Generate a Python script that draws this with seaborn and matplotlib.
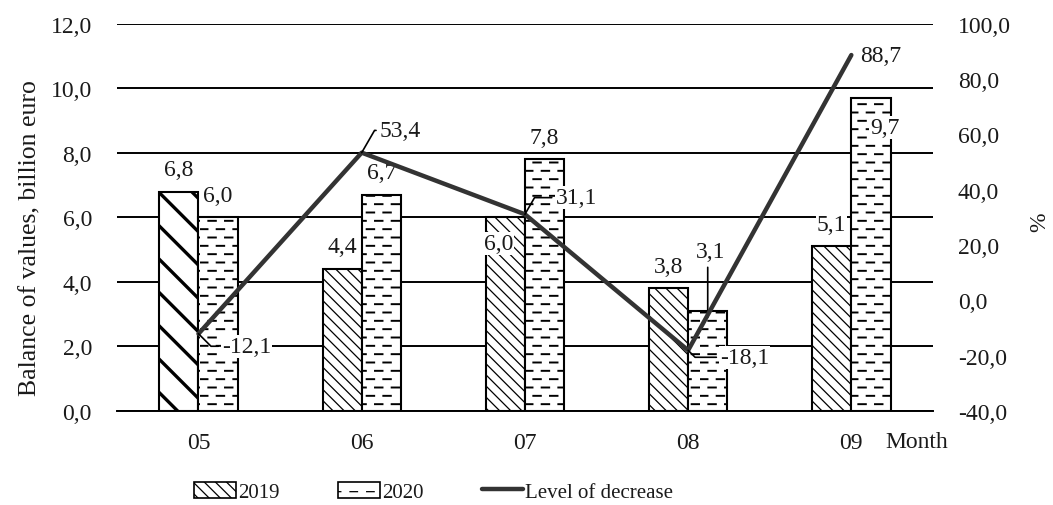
import numpy as np
import pandas as pd
import matplotlib
matplotlib.use("Agg")
import matplotlib.pyplot as plt
import matplotlib.hatch as mhatch
from matplotlib.path import Path
from matplotlib.patches import Patch
from matplotlib.lines import Line2D
import seaborn as sns

# ---------------- data ----------------
months = ["05", "06", "07", "08", "09"]
values_2019 = [6.8, 4.4, 6.0, 3.8, 5.1]
values_2020 = [6.0, 6.7, 7.8, 3.1, 9.7]
decrease = [-12.1, 53.4, 31.1, -18.1, 88.7]
series_names = ["2019", "2020"]
line_name = "Level of decrease"
left_ticks = [0, 2, 4, 6, 8, 10, 12]
right_ticks = [-40, -20, 0, 20, 40, 60, 80, 100]


# -------- dashed horizontal hatch (replaces solid '-') --------
class DashedHorizontalHatch(mhatch.HatchPatternBase):
    def __init__(self, hatch, density):
        self.num_rows = int(hatch.count('-') * density)
        self.num_dash = 6
        self.num_vertices = self.num_rows * self.num_dash * 2

    def set_vertices_and_codes(self, vertices, codes):
        ys = (np.arange(self.num_rows) + 0.5) / self.num_rows
        k = 0
        period = 1.0 / self.num_dash
        for i, y in enumerate(ys):
            off = 0.5 * period if i % 2 else 0.0
            for j in range(self.num_dash):
                x0 = j * period + off
                vertices[k] = (x0, y)
                vertices[k + 1] = (x0 + 0.45 * period, y)
                codes[k] = Path.MOVETO
                codes[k + 1] = Path.LINETO
                k += 2


mhatch._hatch_types = [DashedHorizontalHatch if t is mhatch.HorizontalHatch else t
                       for t in mhatch._hatch_types]

# ---------------- style ----------------
sns.set_theme(style="white")
plt.rcParams["font.family"] = ["Liberation Serif", "DejaVu Serif"]
plt.rcParams["hatch.linewidth"] = 0.9
TXT = "#1a1a1a"
LINE_C = "#333333"
FS = 17
BOX = dict(facecolor="white", edgecolor="none", pad=0.6)

df = pd.DataFrame({
    "month": months * 2,
    "value": values_2019 + values_2020,
    "year": [series_names[0]] * len(months) + [series_names[1]] * len(months),
})

fig = plt.figure(figsize=(10.53, 5.06), dpi=100)
ax = fig.add_axes([0.111, 0.186, 0.775, 0.765])

sns.barplot(data=df, x="month", y="value", hue="year", order=months,
            hue_order=series_names, width=0.48, gap=0, ax=ax,
            palette=["white", "white"], edgecolor="black", linewidth=1.5,
            legend=False, saturation=1)

hatch_2019 = "\\\\\\"
hatch_2020 = "--"
for i, bar in enumerate(ax.containers[0]):
    bar.set_facecolor("white")
    bar.set_edgecolor("black")
    if i == 0:
        bar.set_hatch("\\")
        if hasattr(bar, "set_hatch_linewidth"):
            bar.set_hatch_linewidth(2.4)
    else:
        bar.set_hatch(hatch_2019)
for bar in ax.containers[1]:
    bar.set_facecolor("white")
    bar.set_edgecolor("black")
    bar.set_hatch(hatch_2020)
    if hasattr(bar, "set_hatch_linewidth"):
        bar.set_hatch_linewidth(1.4)

ax.set_ylim(0, 12)
ax.set_yticks(left_ticks)
ax.set_yticklabels([f"{t:.1f}".replace(".", ",") for t in left_ticks])
ax.yaxis.grid(True, color="black", linewidth=1.4)
ax.set_axisbelow(True)
for s in ["top", "right", "left"]:
    ax.spines[s].set_visible(False)
ax.spines["bottom"].set_color("black")
ax.spines["bottom"].set_linewidth(1.4)
ax.tick_params(axis="both", length=0, labelsize=FS, colors=TXT)
ax.tick_params(axis="y", pad=18)
ax.tick_params(axis="x", pad=15)
ax.set_xlabel("Month", fontsize=FS, color=TXT)
ax.xaxis.set_label_coords(0.98, -0.052)
ax.set_ylabel("Balance of values, billion euro", fontsize=18.5, color=TXT)
ax.yaxis.set_label_coords(-0.093, 0.45)

# ---------------- line on secondary axis ----------------
ax2 = ax.twinx()
sns.pointplot(x=months, y=decrease, order=months, ax=ax2, color=LINE_C,
              markers="", linewidth=3.2, errorbar=None)
ax2.set_ylim(-40, 100)
ax2.set_yticks(right_ticks)
ax2.set_yticklabels([f"{t:.1f}".replace(".", ",") for t in right_ticks])
ax2.tick_params(axis="y", length=0, labelsize=FS, colors=TXT, pad=18)
for s in ax2.spines.values():
    s.set_visible(False)
ax2.set_ylabel("")
ax2.set_xlabel("")
ax2.grid(False)
fig.text(1040 / 1053, 1 - 222 / 506, "%", rotation=90, ha="center",
         va="center", fontsize=FS, color=TXT)

# ---------------- bar labels ----------------
def fmt(v):
    return f"{v:.1f}".replace(".", ",")

# offsets (points) for each bar label
off_2019 = [(0, 16), (0, 16), (-5, -19), (0, 16), (0, 16)]
off_2020 = [(0, 16), (0, 16), (0, 16), (2, 43), (10, -21)]
for bars, vals, offs in [(ax.containers[0], values_2019, off_2019),
                         (ax.containers[1], values_2020, off_2020)]:
    for bar, v, (dx, dy) in zip(bars, vals, offs):
        cx = bar.get_x() + bar.get_width() / 2
        ax.annotate(fmt(v), xy=(cx, v), xytext=(dx, dy), textcoords="offset points",
                    ha="center", va="center", fontsize=FS, color=TXT, bbox=BOX,
                    zorder=5)

# leader for 08/2020 label
b = ax.containers[1][3]
ax.annotate("", xy=(b.get_x() + b.get_width() / 2, values_2020[3] - 0.2),
            xytext=(b.get_x() + b.get_width() / 2, values_2020[3] + 1.35),
            arrowprops=dict(arrowstyle="-", color="black", lw=1.2, shrinkA=0, shrinkB=0),
            zorder=4)

# ---------------- line labels ----------------
line_offs = [(17, -9), (13, 16), (22, 12), (23, -5), (6, 0)]
line_lead = [True, True, True, True, False]
for i, (v, (dx, dy), lead) in enumerate(zip(decrease, line_offs, line_lead)):
    kw = {}
    if lead:
        kw["arrowprops"] = dict(arrowstyle="-", color="black", lw=1.2,
                                shrinkA=2, shrinkB=0, relpos=(0, 0.5),
                                connectionstyle="angle,angleA=0,angleB=%d,rad=0"
                                % (60 if dy > 0 else -45))
    ax2.annotate(fmt(v), xy=(i, v), xytext=(dx, dy), textcoords="offset points",
                 ha="left", va="center", fontsize=FS, color=TXT, bbox=BOX, **kw)

# ---------------- legend ----------------
handles = [
    Patch(facecolor="white", edgecolor="black", hatch=hatch_2019, linewidth=1.2),
    Patch(facecolor="white", edgecolor="black", hatch="-", linewidth=1.2),
    Line2D([], [], color=LINE_C, linewidth=3.2),
]
fig.legend(handles, series_names + [line_name], loc="center",
           bbox_to_anchor=(0.412, 0.026), ncol=3, frameon=False, fontsize=15,
           handlelength=2.0, handleheight=0.8, handletextpad=0.1,
           columnspacing=2.8, labelcolor=TXT)

fig.savefig("out.png", dpi=100)
